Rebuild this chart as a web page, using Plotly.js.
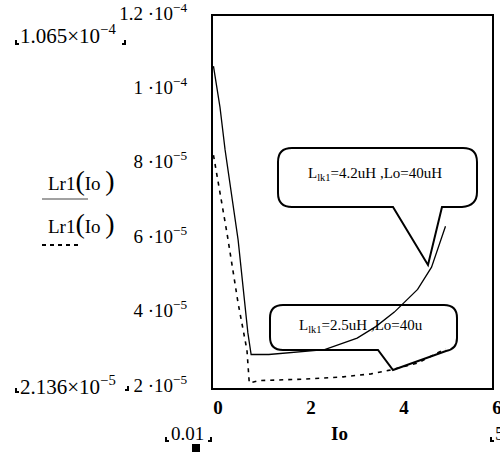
<!DOCTYPE html>
<html>
<head>
<meta charset="utf-8">
<script src="https://cdn.plot.ly/plotly-3.0.1.min.js"></script>
<style>
  html, body { margin: 0; padding: 0; background: #fff; }
  #chart { width: 500px; height: 452px; }
</style>
</head>
<body>
<div id="chart"></div>
<script>
// Lr1(Io) for Llk1 = 4.2 uH, Lo = 40 uH (solid)
const ioSolid = [0.01, 0.15, 0.26, 0.54, 0.75, 0.82, 1.2, 1.8, 2.4, 3.1, 3.5, 3.9, 4.4, 4.7, 5.0];
const lrSolid = [1.065e-4, 9.55e-5, 8.4e-5, 5.98e-5, 3.48e-5, 2.9e-5, 2.9e-5, 2.96e-5, 3.03e-5,
                 3.34e-5, 3.65e-5, 4.04e-5, 4.65e-5, 5.25e-5, 6.35e-5];

// Lr1(Io) for Llk1 = 2.5 uH, Lo = 40 uH (dashed)
const ioDash = [0.01, 0.08, 0.3, 0.54, 0.73, 0.78, 1.0, 2.0, 2.8, 3.4, 3.8, 4.4, 5.0];
const lrDash = [8.26e-5, 7.78e-5, 6.17e-5, 4.28e-5, 3.02e-5, 2.136e-5, 2.2e-5, 2.24e-5, 2.3e-5,
                2.38e-5, 2.48e-5, 2.67e-5, 3.05e-5];

// axis ticks
const xTicks = [0, 2, 4, 6];
const yTicks = [2e-5, 4e-5, 6e-5, 8e-5, 1e-4, 1.2e-4];
const yTickText = ['2 ·10<sup>−5</sup>', '4 ·10<sup>−5</sup>', '6 ·10<sup>−5</sup>',
                   '8 ·10<sup>−5</sup>', '1 ·10<sup>−4</sup>', '1.2 ·10<sup>−4</sup>'];

const SERIF = 'Liberation Serif, Times New Roman, serif';

// plot frame in page pixels
const L = 213, R = 492, T = 16, B = 388;
const px = x => (x - L) / (R - L);
const py = y => (B - y) / (B - T);

// path helper in page pixels -> paper coordinates
function path(cmds) {
  return cmds.map(c => {
    const op = c[0];
    if (op === 'Z') return 'Z';
    const nums = [];
    for (let i = 1; i < c.length; i += 2) nums.push(px(c[i]).toFixed(5) + ',' + py(c[i + 1]).toFixed(5));
    return op + ' ' + nums.join(' ');
  }).join(' ');
}

// speech-bubble callouts
const bubbleTop = path([
  ['M', 292, 148], ['L', 463, 148], ['Q', 477, 148, 477, 162], ['L', 477, 192],
  ['Q', 477, 206, 462, 207], ['L', 442, 207], ['L', 428, 265], ['L', 393, 207],
  ['L', 292, 207], ['Q', 278, 207, 278, 193], ['L', 278, 162], ['Q', 278, 148, 292, 148], ['Z']
]);
const bubbleLow = path([
  ['M', 283, 305], ['L', 444, 305], ['Q', 457, 305, 457, 318], ['L', 457, 338],
  ['Q', 457, 349, 446, 351], ['L', 393, 370], ['L', 378, 350], ['L', 283, 350],
  ['Q', 270, 350, 270, 337], ['L', 270, 318], ['Q', 270, 305, 283, 305], ['Z']
]);

// Mathcad-style corner marks around axis limit readouts
function corner(x, y, right) {
  const d = right ? -3 : 3;
  return {
    type: 'path', xref: 'paper', yref: 'paper',
    path: path([['M', x, y - 4], ['L', x, y], ['L', x + d, y]]),
    line: { color: '#000', width: 2 }
  };
}

const shapes = [
  { type: 'path', xref: 'paper', yref: 'paper', path: bubbleTop, line: { color: '#000', width: 2 } },
  { type: 'path', xref: 'paper', yref: 'paper', path: bubbleLow, line: { color: '#000', width: 2 } },
  // legend strokes under the y-axis expressions
  { type: 'line', xref: 'paper', yref: 'paper', x0: px(42), x1: px(88), y0: py(199), y1: py(199),
    line: { color: '#444', width: 1 } },
  { type: 'line', xref: 'paper', yref: 'paper', x0: px(42), x1: px(80), y0: py(245), y1: py(245),
    line: { color: '#000', width: 2, dash: '4px,4px' } },
  corner(16, 44, false), corner(125, 44, true),
  corner(16, 392, false), corner(128, 390, true),
  corner(166, 441, false), corner(211, 441, true),
  corner(491, 441, false),
  { type: 'rect', xref: 'paper', yref: 'paper', x0: px(192), x1: px(200), y0: py(444), y1: py(452),
    fillcolor: '#000', line: { width: 0 } }
];

function ann(text, x, y, xanchor, size, weight) {
  return {
    text: text, xref: 'paper', yref: 'paper', x: px(x), y: py(y),
    xanchor: xanchor, yanchor: 'middle', showarrow: false,
    font: { family: SERIF, size: size || 19, color: '#000', weight: weight || 'normal' }
  };
}

const BIG = "<span style='font-size:28px'>";
const annotations = [
  ann('L<sub>lk1</sub>=4.2uH ,Lo=40uH', 375, 174, 'center', 15),
  ann('L<sub>lk1</sub>=2.5uH ,Lo=40u', 361, 326, 'center', 15),
  ann('1.065×10<sup>−4</sup>', 18, 35, 'left', 21),
  ann('2.136×10<sup>−5</sup>', 18, 385, 'left', 21),
  ann('0.01', 169, 434, 'left', 19),
  ann('Io', 339, 433, 'center', 19, 'bold'),
  ann('5', 493, 434, 'left', 19),
  ann('Lr1' + BIG + '(</span>Io ' + BIG + ')</span>', 46, 180, 'left'),
  ann('Lr1' + BIG + '(</span>Io ' + BIG + ')</span>', 46, 224, 'left')
];

const traces = [
  {
    x: ioSolid, y: lrSolid, type: 'scatter', mode: 'lines',
    line: { color: '#000', width: 1.3 }, hoverinfo: 'skip'
  },
  {
    x: ioDash, y: lrDash, type: 'scatter', mode: 'lines',
    line: { color: '#000', width: 1.6, dash: '4px,5px' }, hoverinfo: 'skip'
  }
];

const layout = {
  width: 500, height: 452,
  margin: { l: L, r: 500 - R, t: T, b: 452 - B, pad: 0 },
  paper_bgcolor: '#fff', plot_bgcolor: '#fff',
  showlegend: false,
  xaxis: {
    range: [0, 6], tickvals: xTicks, ticks: '', showgrid: false, zeroline: false,
    showline: true, mirror: true, linecolor: '#000', linewidth: 2,
    tickfont: { family: SERIF, size: 19, color: '#000', weight: 'bold' },
    ticklabelshift: 5, ticklabelstandoff: 1, ticklabeloverflow: 'allow'
  },
  yaxis: {
    range: [2e-5, 1.2e-4], tickvals: yTicks, ticktext: yTickText, ticks: '',
    showgrid: false, zeroline: false,
    showline: true, mirror: true, linecolor: '#000', linewidth: 2,
    tickfont: { family: SERIF, size: 19, color: '#000' },
    ticklabelstandoff: 20, ticklabelshift: -3, ticklabeloverflow: 'allow'
  },
  shapes: shapes,
  annotations: annotations
};

Plotly.newPlot('chart', traces, layout, { staticPlot: true, displayModeBar: false });
</script>
</body>
</html>
